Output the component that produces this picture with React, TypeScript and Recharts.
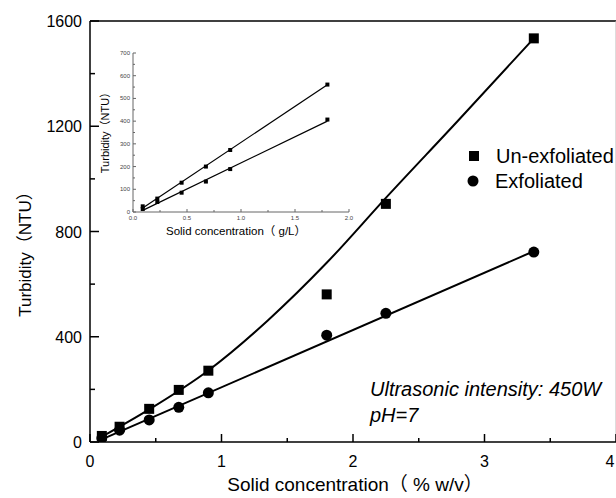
import { ComposedChart, Line, Scatter, XAxis, YAxis, ReferenceLine } from 'recharts';

// main chart, % w/v
const concentration = [0.09, 0.225, 0.45, 0.675, 0.9, 1.8, 2.25, 3.375];
const unExfoliated = [23, 58, 126, 198, 271, 561, 905, 1534];
const exfoliated = [15, 45, 84, 132, 187, 406, 489, 722];

// fitted curves
const unExfFitX = [0.09, 0.45, 0.9, 1.35, 1.8, 2.25, 2.8, 3.375];
const unExfFitY = [20, 124, 272, 461, 681, 928, 1222, 1534];
const exfFitX = [0.09, 3.375];
const exfFitY = [10, 725];

const xTicks = [0, 0.5, 1, 1.5, 2, 2.5, 3, 3.5, 4];
const yTicks = [0, 200, 400, 600, 800, 1000, 1200, 1400, 1600];

// inset, g/L
const insetConc = [0.09, 0.225, 0.45, 0.675, 0.9, 1.8];
const insetUnExf = [25, 59, 129, 200, 273, 561];
const insetExf = [13, 44, 85, 134, 189, 407];
const insetFitX = [0.09, 1.8];
const insetUnExfFit = [18, 560];
const insetExfFit = [7, 400];

const insetXTicks = [0, 0.25, 0.5, 0.75, 1, 1.25, 1.5, 1.75, 2];
const insetYTicks = [0, 50, 100, 150, 200, 250, 300, 350, 400, 450, 500, 550, 600, 650, 700];

const FONT = "Arial, 'Liberation Sans', 'Noto Sans CJK SC', sans-serif";

const toPts = (xs: number[], ys: number[]) => xs.map((x, i) => ({ x, y: ys[i] }));

const MainXTick = (props: any) => {
  const { x, y, payload } = props;
  const v = payload.value;
  const major = Number.isInteger(v);
  return (
    <g>
      <line x1={x} y1={y} x2={x} y2={y - (major ? 8 : 4)} stroke="#000" strokeWidth={1.5} />
      {major && (
        <text x={Math.min(x, 610)} y={y + 25} textAnchor="middle" fontSize={16} fontFamily={FONT} fill="#000">
          {v}
        </text>
      )}
    </g>
  );
};

const MainYTick = (props: any) => {
  const { x, y, payload } = props;
  const v = payload.value;
  const major = v % 400 === 0;
  return (
    <g>
      <line x1={x} y1={y} x2={x + (major ? 9 : 5)} y2={y} stroke="#000" strokeWidth={1.5} />
      {major && (
        <text x={x - 8} y={y + 6} textAnchor="end" fontSize={16} fontFamily={FONT} fill="#000">
          {v}
        </text>
      )}
    </g>
  );
};

const InsetXTick = (props: any) => {
  const { x, y, payload } = props;
  const v = payload.value;
  const major = Math.abs(v * 2 - Math.round(v * 2)) < 1e-9;
  return (
    <g>
      <line x1={x} y1={y} x2={x} y2={y - (major ? 3 : 2)} stroke="#666" strokeWidth={1} />
      {major && (
        <text x={x} y={y + 8} textAnchor="middle" fontSize={6} fontFamily={FONT} fill="#444">
          {v.toFixed(1)}
        </text>
      )}
    </g>
  );
};

const InsetTopTick = (props: any) => {
  const { x, y, payload } = props;
  const major = Math.abs(payload.value * 2 - Math.round(payload.value * 2)) < 1e-9;
  return <line x1={x} y1={y} x2={x} y2={y + (major ? 3 : 2)} stroke="#666" strokeWidth={1} />;
};

const InsetYTick = (props: any) => {
  const { x, y, payload } = props;
  const v = payload.value;
  const major = v % 100 === 0;
  return (
    <g>
      <line x1={x} y1={y} x2={x + (major ? 3 : 2)} y2={y} stroke="#666" strokeWidth={1} />
      {major && (
        <text x={x - 3} y={y + 2} textAnchor="end" fontSize={6} fontFamily={FONT} fill="#444">
          {v}
        </text>
      )}
    </g>
  );
};

const InsetRightTick = (props: any) => {
  const { x, y, payload } = props;
  const major = payload.value % 100 === 0;
  return <line x1={x} y1={y} x2={x - (major ? 3 : 2)} y2={y} stroke="#666" strokeWidth={1} />;
};

const SquareDot = (props: any) => (
  <rect x={props.cx - 5} y={props.cy - 5} width={10} height={10} fill="#000" />
);
const CircleDot = (props: any) => <circle cx={props.cx} cy={props.cy} r={5.5} fill="#000" />;
const SmallSquare = (props: any) => (
  <rect x={props.cx - 2} y={props.cy - 2} width={4} height={4} fill="#000" />
);

const Inset = () => (
  <ComposedChart width={270} height={215} margin={{ top: 23, right: 11, left: 0, bottom: 0 }}>
    <XAxis
      dataKey="x"
      type="number"
      domain={[0, 2]}
      ticks={insetXTicks}
      interval={0}
      height={33}
      tickSize={0}
      tickMargin={0}
      tickLine={false}
      tick={<InsetXTick />}
      axisLine={{ stroke: '#666', strokeWidth: 1 }}
      allowDataOverflow
    />
    <XAxis
      xAxisId="top"
      orientation="top"
      dataKey="x"
      type="number"
      domain={[0, 2]}
      ticks={insetXTicks}
      interval={0}
      height={0}
      tickSize={0}
      tickMargin={0}
      tickLine={false}
      tick={<InsetTopTick />}
      axisLine={{ stroke: '#666', strokeWidth: 1 }}
    />
    <YAxis
      type="number"
      domain={[0, 700]}
      ticks={insetYTicks}
      interval={0}
      width={43}
      tickSize={0}
      tickMargin={0}
      tickLine={false}
      tick={<InsetYTick />}
      axisLine={{ stroke: '#666', strokeWidth: 1 }}
      allowDataOverflow
    />
    <YAxis
      yAxisId="right"
      orientation="right"
      type="number"
      domain={[0, 700]}
      ticks={insetYTicks}
      interval={0}
      width={0}
      tickSize={0}
      tickMargin={0}
      tickLine={false}
      tick={<InsetRightTick />}
      axisLine={{ stroke: '#666', strokeWidth: 1 }}
    />
    <Line data={toPts(insetFitX, insetUnExfFit)} dataKey="y" type="linear" stroke="#000" strokeWidth={1.2} dot={false} isAnimationActive={false} />
    <Line data={toPts(insetFitX, insetExfFit)} dataKey="y" type="linear" stroke="#000" strokeWidth={1.2} dot={false} isAnimationActive={false} />
    <Scatter data={toPts(insetConc, insetUnExf)} dataKey="y" shape={<SmallSquare />} isAnimationActive={false} />
    <Scatter data={toPts(insetConc, insetExf)} dataKey="y" shape={<SmallSquare />} isAnimationActive={false} />
  </ComposedChart>
);

export default function App() {
  return (
    <div style={{ position: 'absolute', left: 0, top: 0, width: 616, height: 498, background: '#fff', fontFamily: FONT }}>
      <ComposedChart width={616} height={498} margin={{ top: 21, right: 0, left: 0, bottom: 0 }}>
        <XAxis
          dataKey="x"
          type="number"
          domain={[0, 4]}
          ticks={xTicks}
          interval={0}
          height={56}
          tickSize={0}
          tickMargin={0}
          tickLine={false}
          tick={<MainXTick />}
          axisLine={{ stroke: '#000', strokeWidth: 1.5 }}
          allowDataOverflow
        />
        <YAxis
          type="number"
          domain={[0, 1600]}
          ticks={yTicks}
          interval={0}
          width={90}
          tickSize={0}
          tickMargin={0}
          tickLine={false}
          tick={<MainYTick />}
          axisLine={{ stroke: '#000', strokeWidth: 1.5 }}
          allowDataOverflow
        />
        <ReferenceLine y={1600} stroke="#000" strokeWidth={1.5} />
        <ReferenceLine x={4} stroke="#bbb" strokeWidth={1} />
        <Line data={toPts(unExfFitX, unExfFitY)} dataKey="y" type="monotone" stroke="#000" strokeWidth={2} dot={false} isAnimationActive={false} />
        <Line data={toPts(exfFitX, exfFitY)} dataKey="y" type="linear" stroke="#000" strokeWidth={2} dot={false} isAnimationActive={false} />
        <Scatter data={toPts(concentration, unExfoliated)} dataKey="y" shape={<SquareDot />} isAnimationActive={false} />
        <Scatter data={toPts(concentration, exfoliated)} dataKey="y" shape={<CircleDot />} isAnimationActive={false} />
      </ComposedChart>

      <div style={{ position: 'absolute', left: 90, top: 30 }}>
        <Inset />
      </div>

      <svg width={616} height={498} style={{ position: 'absolute', left: 0, top: 0, pointerEvents: 'none' }} fontFamily={FONT}>
        <text transform="translate(31,250) rotate(-90)" textAnchor="middle" fontSize={17} fill="#000">
          Turbidity（NTU）
        </text>
        <text x={355} y={491} textAnchor="middle" fontSize={19} fill="#000">
          Solid concentration（ % w/v）
        </text>

        <rect x={469} y={151} width={10} height={10} fill="#000" />
        <text x={496} y={163} fontSize={20} fill="#000">Un-exfoliated</text>
        <circle cx={473} cy={181} r={5.5} fill="#000" />
        <text x={495} y={188} fontSize={20} fill="#000">Exfoliated</text>

        <text x={370} y={396} fontSize={20} fontStyle="italic" fill="#000">Ultrasonic intensity: 450W</text>
        <text x={370} y={422} fontSize={20} fontStyle="italic" fill="#000">pH=7</text>

        <text transform="translate(109,130) rotate(-90)" textAnchor="middle" fontSize={11} fill="#000">
          Turbidity（NTU）
        </text>
        <text x={236} y={235} textAnchor="middle" fontSize={11.5} fill="#000">
          Solid concentration（ g/L）
        </text>
      </svg>
    </div>
  );
}
